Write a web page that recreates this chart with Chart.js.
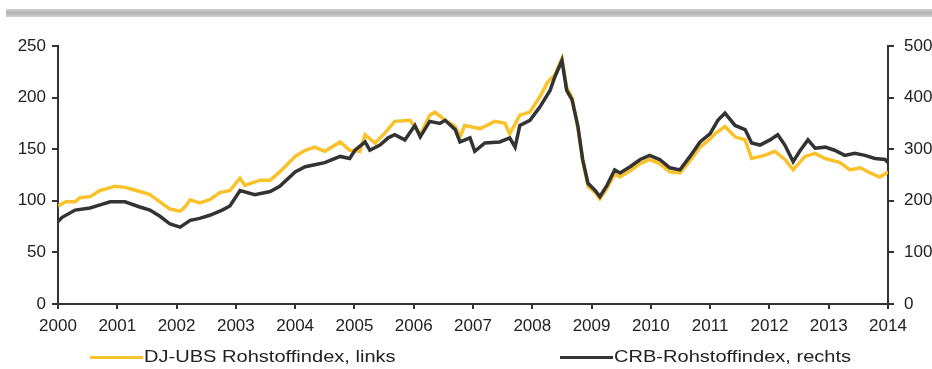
<!DOCTYPE html>
<html>
<head>
<meta charset="utf-8">
<script src="https://cdn.jsdelivr.net/npm/chart.js@4.4.1/dist/chart.umd.min.js"></script>
<style>
  html, body { margin: 0; padding: 0; background: #fff; }
  #wrap { position: relative; width: 932px; height: 369px; overflow: hidden; }
  #topbar { position: absolute; left: 6px; top: 9px; width: 926px; height: 8px;
    background: linear-gradient(#d0d0d0, #b4b4b4 50%, #d0d0d0); }
  #c { position: absolute; left: 0; top: 0; }
  .leg { position: absolute; top: 347px; font-family: "Liberation Sans", Arial, sans-serif;
    font-size: 17px; color: #222; white-space: nowrap; display: flex; align-items: center; }
  .leg span.line { display: inline-block; width: 53px; height: 3px; margin-right: 1px; }
  .leg span.txt { display: inline-block; transform: scaleX(1.18); transform-origin: left center; }
</style>
</head>
<body>
<div id="wrap">
  <div id="topbar"></div>
  <canvas id="c" width="932" height="369"></canvas>
  <div class="leg" style="left:90px"><span class="line" style="background:#F9C22B"></span><span class="txt" id="l1"></span></div>
  <div class="leg" style="left:560px"><span class="line" style="background:#333333"></span><span class="txt" id="l2"></span></div>
</div>
<script>
// ---- Data ----
const djLabel = "DJ-UBS Rohstoffindex, links";
const crbLabel = "CRB-Rohstoffindex, rechts";
const xTicks = [2000, 2001, 2002, 2003, 2004, 2005, 2006, 2007, 2008, 2009, 2010, 2011, 2012, 2013, 2014];
const leftTicks = [0, 50, 100, 150, 200, 250];
const rightTicks = [0, 100, 200, 300, 400, 500];

const djDates = [2000.00, 2000.13, 2000.29, 2000.37, 2000.54, 2000.71, 2000.84, 2000.96, 2001.13, 2001.26,
  2001.38, 2001.55, 2001.72, 2001.89, 2002.06, 2002.14, 2002.23, 2002.39, 2002.56, 2002.73,
  2002.90, 2003.07, 2003.15, 2003.41, 2003.58, 2003.74, 2004.00, 2004.17, 2004.33, 2004.50,
  2004.76, 2004.92, 2005.09, 2005.18, 2005.35, 2005.52, 2005.68, 2005.94, 2006.11, 2006.27,
  2006.36, 2006.53, 2006.70, 2006.78, 2006.86, 2007.12, 2007.37, 2007.54, 2007.62, 2007.79,
  2007.96, 2008.13, 2008.26, 2008.38, 2008.50, 2008.58, 2008.67, 2008.77, 2008.85, 2008.94,
  2009.06, 2009.14, 2009.26, 2009.39, 2009.48, 2009.65, 2009.82, 2009.98, 2010.15, 2010.32,
  2010.49, 2010.66, 2010.83, 2011.00, 2011.08, 2011.25, 2011.42, 2011.59, 2011.70, 2011.92,
  2012.09, 2012.26, 2012.40, 2012.60, 2012.77, 2012.94, 2013.19, 2013.36, 2013.53, 2013.70,
  2013.86, 2014.00];
const djValues = [95, 99, 99, 103, 104, 110, 112, 114, 113, 111,
  109, 106, 99, 92, 90, 94, 101, 98, 101, 108,
  110, 122, 115, 120, 120, 128, 143, 149, 152, 148,
  157, 149, 148, 164, 156, 166, 177, 178, 164, 183,
  186, 178, 172, 162, 173, 170, 177, 175, 165, 183,
  186, 201, 215, 222, 238, 210, 200, 170, 138, 114,
  108, 102, 112, 126, 123, 129, 136, 140, 136, 128,
  127, 139, 152, 160, 165, 172, 162, 159, 141, 144,
  148, 140, 130, 143, 146, 141, 137, 130, 132, 127,
  123, 128];

const crbDates = [2000.00, 2000.07, 2000.29, 2000.54, 2000.71, 2000.88, 2001.13, 2001.38, 2001.55, 2001.72,
  2001.89, 2002.06, 2002.23, 2002.39, 2002.56, 2002.77, 2002.90, 2003.07, 2003.32, 2003.58,
  2003.74, 2004.00, 2004.17, 2004.33, 2004.50, 2004.76, 2004.92, 2005.01, 2005.18, 2005.26,
  2005.43, 2005.57, 2005.68, 2005.85, 2006.02, 2006.11, 2006.27, 2006.44, 2006.53, 2006.70,
  2006.78, 2006.95, 2007.03, 2007.20, 2007.45, 2007.62, 2007.71, 2007.79, 2007.96, 2008.13,
  2008.30, 2008.38, 2008.50, 2008.58, 2008.67, 2008.77, 2008.85, 2008.94, 2009.06, 2009.14,
  2009.26, 2009.39, 2009.48, 2009.65, 2009.82, 2009.98, 2010.15, 2010.32, 2010.49, 2010.66,
  2010.83, 2011.00, 2011.13, 2011.25, 2011.42, 2011.59, 2011.70, 2011.84, 2012.01, 2012.14,
  2012.26, 2012.40, 2012.51, 2012.65, 2012.77, 2012.94, 2013.10, 2013.27, 2013.44, 2013.61,
  2013.78, 2013.95, 2014.00];
const crbValues = [160, 168, 182, 186, 192, 198, 198, 188, 182, 170,
  155, 149, 162, 166, 172, 182, 190, 220, 212, 218,
  228, 256, 266, 270, 274, 286, 282, 298, 314, 298,
  308, 322, 328, 318, 346, 324, 354, 350, 356, 338,
  314, 322, 296, 312, 314, 322, 304, 346, 356, 382,
  414, 440, 472, 414, 396, 344, 280, 234, 220, 208,
  230, 260, 254, 266, 280, 288, 280, 264, 260, 286,
  314, 330, 356, 370, 346, 338, 312, 308, 318, 328,
  308, 276, 296, 318, 302, 304, 298, 288, 292, 288,
  282, 280, 274];

document.getElementById('l1').textContent = djLabel;
document.getElementById('l2').textContent = crbLabel;

const djPoints = djDates.map((d, i) => ({ x: d, y: djValues[i] }));
const crbPoints = crbDates.map((d, i) => ({ x: d, y: crbValues[i] }));

const FONT = { family: '"Liberation Sans", Arial, sans-serif', size: 17 };
const AXIS = '#333333';

new Chart(document.getElementById('c'), {
  type: 'line',
  data: {
    datasets: [
      { label: djLabel, data: djPoints, yAxisID: 'y', borderColor: '#F9C22B', borderWidth: 3.5,
        pointRadius: 0, tension: 0, order: 2 },
      { label: crbLabel, data: crbPoints, yAxisID: 'y1', borderColor: '#333333', borderWidth: 3.5,
        pointRadius: 0, tension: 0, order: 1 }
    ]
  },
  options: {
    responsive: false,
    animation: false,
    devicePixelRatio: 1,
    layout: { padding: { top: 46, left: 0, right: 0, bottom: 0 } },
    plugins: { legend: { display: false }, tooltip: { enabled: false } },
    scales: {
      x: {
        type: 'linear', min: 2000, max: 2014,
        afterBuildTicks: s => { s.ticks = xTicks.map(v => ({ value: v })); },
        afterFit: s => { s.height = 65; },
        ticks: { callback: v => String(v), color: '#222', font: FONT, padding: 7, maxRotation: 0, autoSkip: false },
        grid: { drawOnChartArea: false, tickLength: 5, color: AXIS, lineWidth: 2 },
        border: { color: AXIS, width: 2 }
      },
      y: {
        position: 'left', min: 0, max: 250,
        afterBuildTicks: s => { s.ticks = leftTicks.map(v => ({ value: v })); },
        afterFit: s => { s.width = 58; },
        ticks: { color: '#222', font: FONT, padding: 6 },
        grid: { drawOnChartArea: false, tickLength: 6, color: AXIS, lineWidth: 2 },
        border: { color: AXIS, width: 2 }
      },
      y1: {
        position: 'right', min: 0, max: 500,
        afterBuildTicks: s => { s.ticks = rightTicks.map(v => ({ value: v })); },
        afterFit: s => { s.width = 44; },
        ticks: { color: '#222', font: FONT, padding: 10 },
        grid: { drawOnChartArea: false, tickLength: 6, color: AXIS, lineWidth: 2 },
        border: { color: AXIS, width: 2 }
      }
    }
  }
});
</script>
</body>
</html>
